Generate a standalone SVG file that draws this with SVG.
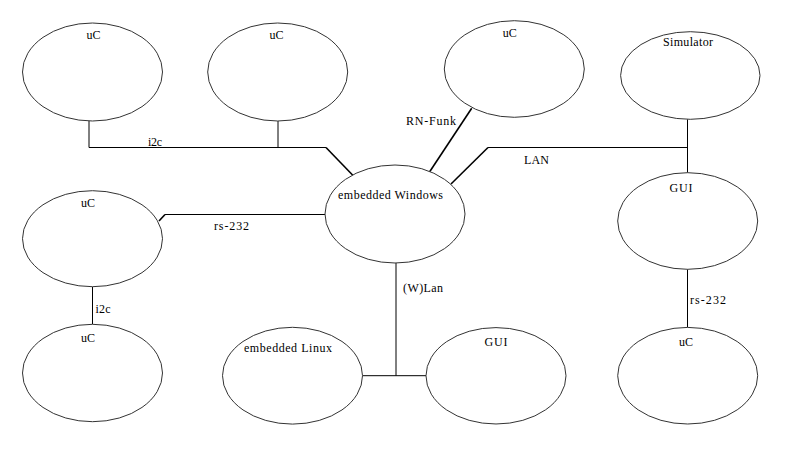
<svg xmlns="http://www.w3.org/2000/svg" width="800" height="453" viewBox="0 0 800 453">
<style>
.n{fill:#fff;stroke:#333;stroke-width:1}
.t{font-family:"Liberation Serif","Times New Roman",serif;font-size:12px;fill:#000}
.c{fill:none;stroke:#000;stroke-width:1}
.d{fill:none;stroke:#000;stroke-width:1.6}
</style>
<rect width="800" height="453" fill="#fff"/>
<g id="connectors">
<polyline class="c" points="89,121 89,147.5 326,147.5"/>
<line class="d" x1="326" y1="147.5" x2="353.5" y2="176"/>
<line class="c" x1="278" y1="121" x2="278" y2="147.5"/>
<line class="d" x1="471.7" y1="108.3" x2="429.5" y2="172"/>
<line class="c" x1="687.5" y1="119.3" x2="687.5" y2="172.7"/>
<line class="c" x1="687.5" y1="147.5" x2="488" y2="147.5"/>
<line class="d" x1="488" y1="147.5" x2="451" y2="184"/>
<line class="c" x1="325" y1="214.5" x2="165" y2="214.5"/>
<line class="d" x1="165" y1="214.5" x2="159" y2="221"/>
<line class="c" x1="92.5" y1="286.7" x2="92.5" y2="324.3"/>
<line class="c" x1="396" y1="263" x2="396" y2="375.7"/>
<line class="c" x1="362.5" y1="375.7" x2="426" y2="375.7"/>
<line class="c" x1="687.5" y1="269.3" x2="687.5" y2="327.5"/>
<text class="t" x="148" y="145.5" textLength="14" lengthAdjust="spacing">i2c</text>
<text class="t" x="406" y="125" textLength="50" lengthAdjust="spacing">RN-Funk</text>
<text class="t" x="524" y="164" textLength="25" lengthAdjust="spacing">LAN</text>
<text class="t" x="214" y="230" textLength="35" lengthAdjust="spacing">rs-232</text>
<text class="t" x="403" y="291.5" textLength="40" lengthAdjust="spacing">(W)Lan</text>
<text class="t" x="95.5" y="312.5" textLength="15" lengthAdjust="spacing">i2c</text>
<text class="t" x="690" y="304" textLength="36" lengthAdjust="spacing">rs-232</text>
</g>
<g id="uc1"><ellipse class="n" cx="92.5" cy="72" rx="70" ry="49"/><text class="t" x="93.5" y="39" text-anchor="middle">uC</text></g>
<g id="uc2"><ellipse class="n" cx="277.7" cy="72" rx="70" ry="49"/><text class="t" x="276.5" y="39" text-anchor="middle">uC</text></g>
<g id="uc3"><ellipse class="n" cx="514.3" cy="69" rx="70" ry="48.3"/><text class="t" x="509.7" y="36.5" text-anchor="middle">uC</text></g>
<g id="simulator"><ellipse class="n" cx="690.3" cy="75.5" rx="69.7" ry="43.8"/><text class="t" x="663" y="46" textLength="50" lengthAdjust="spacing">Simulator</text></g>
<g id="gui1"><ellipse class="n" cx="687.7" cy="221" rx="70" ry="48.3"/><text class="t" x="669.5" y="191.5" textLength="23" lengthAdjust="spacing">GUI</text></g>
<g id="windows"><ellipse class="n" cx="395" cy="214" rx="70" ry="49"/><text class="t" x="338" y="199" textLength="105" lengthAdjust="spacing">embedded Windows</text></g>
<g id="uc4"><ellipse class="n" cx="92.5" cy="238.7" rx="70" ry="48"/><text class="t" x="88" y="206.5" text-anchor="middle">uC</text></g>
<g id="uc5"><ellipse class="n" cx="92.5" cy="373" rx="70" ry="48.7"/><text class="t" x="88" y="341.5" text-anchor="middle">uC</text></g>
<g id="linux"><ellipse class="n" cx="292.5" cy="375.7" rx="70" ry="48.4"/><text class="t" x="244" y="351.5" textLength="88" lengthAdjust="spacing">embedded Linux</text></g>
<g id="gui2"><ellipse class="n" cx="496" cy="375.8" rx="70" ry="48.2"/><text class="t" x="484.5" y="346" textLength="23" lengthAdjust="spacing">GUI</text></g>
<g id="uc6"><ellipse class="n" cx="687.7" cy="375.7" rx="70" ry="48.3"/><text class="t" x="686" y="346" text-anchor="middle">uC</text></g>
</svg>
